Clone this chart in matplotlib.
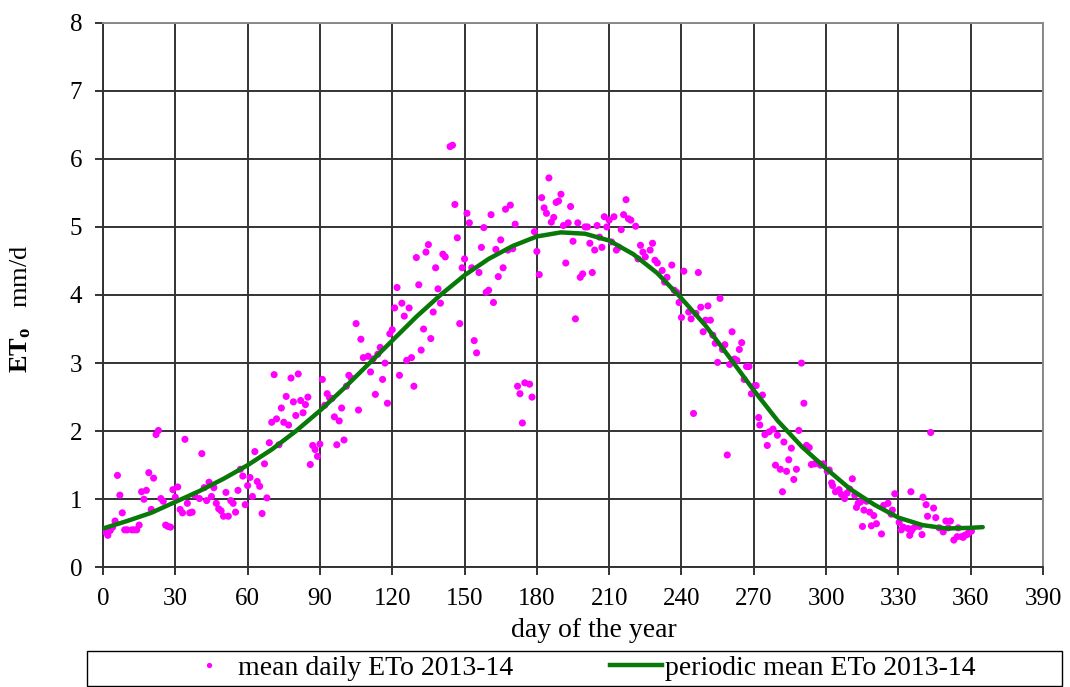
import matplotlib
matplotlib.use("Agg")
import matplotlib.pyplot as plt
from matplotlib.lines import Line2D
from matplotlib.patches import Rectangle

plt.rcParams['font.family'] = ['Liberation Serif', 'DejaVu Serif']
plt.rcParams['mathtext.fontset'] = 'custom'
plt.rcParams['mathtext.rm'] = 'Liberation Serif'
plt.rcParams['mathtext.bf'] = 'Liberation Serif:bold'
plt.rcParams['mathtext.it'] = 'Liberation Serif:italic'

# mean daily ETo 2013-14 (day of year, mm/d)
daily_day = [1, 2, 3, 4, 5, 6, 7, 8, 9, 10, 12, 13, 14, 15, 16, 17, 18, 19, 20, 21, 22, 23, 24, 25, 26, 27, 28, 29,
             30, 31, 32, 33, 34, 35, 36, 37, 38, 40, 41, 42, 43, 44, 45, 46, 47, 48, 49, 50, 51, 52, 53, 54, 55, 56,
             57, 58, 59, 60, 61, 62, 63, 64, 65, 66, 67, 68, 69, 70, 71, 72, 73, 74, 75, 76, 77, 78, 79, 80,
             81, 82, 83, 84, 85, 86, 87, 88, 89, 90, 91, 92, 93, 94, 95, 96, 97, 98, 99, 100, 101, 102, 103, 105,
             106, 107, 108, 110, 111, 112, 113, 114, 115, 116, 117, 118, 119, 120, 121, 122, 123, 124, 125, 126,
             127, 128, 129, 130, 131, 132, 133, 134, 136, 137, 138, 139, 140, 141, 142, 148,
             135, 144, 145, 146, 147, 149, 150, 151, 152, 153, 154, 155, 156, 157, 158, 159, 160, 161, 162, 163,
             164, 165, 166, 167, 168, 169, 170, 171, 172, 173, 174, 175, 177, 178, 179, 180, 181, 182, 183, 184,
             185, 186, 187, 188, 189, 190, 191, 192, 193, 194, 195, 196, 197, 198, 199, 200, 201, 202, 203, 204, 205,
             206, 207, 208, 209, 210, 211, 212, 213, 214, 215, 216, 217, 218, 219, 221, 222, 223, 224, 225, 227,
             228, 229, 230, 232, 233, 234, 236, 237, 238, 239, 240, 241, 243, 244, 245, 246, 247, 248, 249, 250,
             251, 252, 253, 254, 255, 256, 257, 258, 259, 260, 261, 262, 263, 264, 265, 266, 267, 268, 269, 270,
             271, 272, 272.5,
             273.6, 274.6, 276.4, 278, 275.6, 279.8, 282.5, 279, 281, 283.6, 281.9, 284.5, 285.6, 287.7, 286.6,
             288.7, 289.8, 290.8, 291.9, 293, 293.9, 295.3, 296.7, 297.7, 298.8, 300.5, 301.3, 302.3, 302.7, 303.9,
             305.4, 306.4, 307.7, 308.7, 309.8, 310.9, 311.9, 313.3, 312.6, 314.3, 316.8, 315.7, 318.1, 319.8,
             315.1, 318.8, 320.9, 323.9, 325.7, 327.5, 327, 328.5, 330.3, 332, 335.2,
             323, 331.2, 334, 335.3, 336, 337.1, 338.7, 334.7, 339.8, 340.2, 341.5, 344.6, 342.1, 345.5, 346.9,
             348.6, 349.7, 351.6, 350.7, 353, 354.4, 356.2, 357.5, 358.9, 360.3, 354.8, 356.9, 358.5, 343.4]
daily_eto = [0.52, 0.47, 0.54, 0.59, 0.68, 1.35, 1.06, 0.80, 0.55, 0.55, 0.55, 0.55, 0.55, 0.62, 1.11, 1.00, 1.13,
             1.39, 0.85, 1.31, 1.95, 2.01, 1.01, 0.97, 0.62, 0.60, 0.59, 1.14,
             1.03, 1.18, 0.85, 0.80, 1.88, 0.94, 0.80, 0.81, 1.06, 1.01, 1.67, 1.17, 0.98, 1.25, 1.04, 1.17, 0.94,
             0.86, 0.83, 0.75, 1.10, 0.75, 0.98, 0.94, 0.81, 1.13,
             1.44, 1.34, 0.92, 1.20, 1.32, 1.04, 1.70, 1.26, 1.19, 0.79, 1.52, 1.02, 1.83, 2.13, 2.83, 2.18, 1.80,
             2.34, 2.13, 2.51, 2.09, 2.78, 2.43, 2.23,
             2.84, 2.45, 2.27, 2.39, 2.50, 1.51, 1.79, 1.73, 1.63, 1.81, 2.76, 2.38, 2.55, 2.49, 2.48, 2.21, 1.80,
             2.15, 2.34, 1.87, 2.66, 2.82, 2.78, 3.58,
             2.31, 3.35, 3.08, 3.10, 2.87, 3.06, 2.54, 3.13, 3.23, 2.76, 3.00, 2.41, 3.43, 3.49, 3.81, 4.11, 2.82,
             3.88, 3.69, 3.04,
             3.81, 3.08, 2.66, 4.55, 4.15, 3.19, 3.50, 4.63, 3.36, 3.75, 4.40, 4.09, 3.88, 4.60, 4.56, 3.58,
             4.74, 6.18, 6.20, 5.33, 4.84, 4.40, 4.53, 5.20, 5.06, 4.40, 3.33, 3.15, 4.33, 4.70, 4.99, 4.04, 4.07,
             5.18, 3.89, 4.67,
             4.27, 4.81, 4.40, 5.26, 4.66, 5.32, 4.68, 5.04, 2.66, 2.55, 2.12, 2.71, 2.69, 2.50, 4.93, 4.64, 4.30,
             5.43, 5.28, 5.20,
             5.72, 5.07, 5.14, 5.36, 5.38, 5.48, 5.02, 4.47, 5.06, 5.30, 4.79, 3.65, 5.06, 4.26, 4.31, 5.00, 5.00,
             4.76, 4.33, 4.66, 5.02,
             4.85, 4.70, 5.15, 5.00, 5.10, 4.78, 5.15, 4.66, 4.70, 4.96, 5.18, 5.40, 5.12, 5.10, 5.01, 4.53, 4.73,
             4.63, 4.56, 4.66,
             4.76, 4.51, 4.47, 4.36, 4.19, 4.26, 4.44, 4.07, 4.04, 3.89, 3.67, 4.35, 3.75, 3.65, 2.26, 3.73, 4.33,
             3.82, 3.46, 3.63,
             3.84, 3.63, 3.41, 3.29, 3.01, 3.95, 3.20, 3.27, 1.65, 2.98, 3.46, 3.06, 3.04, 3.20, 3.30, 2.76, 2.95,
             2.95, 2.55, 2.66,
             2.67, 2.20, 2.09,
             2.53, 1.95, 1.99, 2.03, 1.79, 1.94, 1.84, 1.50, 1.44, 1.41, 1.11, 1.58, 1.75, 1.44, 1.29,
             2.01, 3.00, 2.41, 1.79, 1.76, 1.51, 1.52, 1.53, 1.50, 1.52, 1.41, 1.43, 1.24, 1.20, 1.11,
             1.14, 1.07, 1.01, 1.09, 1.15, 1.30, 1.06, 0.94, 0.88, 0.96, 0.97, 0.84, 0.81, 0.76,
             0.60, 0.61, 0.64, 0.91, 0.94, 0.84, 0.78, 1.08, 0.66, 0.59, 1.11,
             0.49, 0.55, 0.57, 0.53, 0.57, 0.60, 0.60, 0.47, 0.48, 1.03, 0.92, 0.87, 0.75, 0.73, 0.58,
             0.52, 0.68, 0.68, 0.58, 0.40, 0.45, 0.45, 0.47, 0.50, 0.53, 0.58, 0.44, 0.48, 1.98]

# periodic mean ETo 2013-14
periodic_day = [0, 10, 20, 30, 40, 50, 60, 70, 80, 90, 100, 110, 120, 130, 140, 150, 160, 170, 180, 190,
                200, 210, 220, 230, 240, 250, 260, 270, 280, 290, 300, 310, 320, 330, 340, 350, 360, 365]
periodic_eto = [0.57, 0.68, 0.80, 0.96, 1.12, 1.30, 1.50, 1.73, 2.00, 2.30, 2.63, 2.98, 3.33, 3.68, 4.00, 4.29,
                4.53, 4.72, 4.86, 4.92, 4.90, 4.80, 4.60, 4.32, 3.95, 3.55, 3.08, 2.60, 2.15, 1.77, 1.45, 1.15,
                0.92, 0.73, 0.62, 0.57, 0.58, 0.59]

x_ticks = list(range(0, 391, 30))
y_ticks = list(range(0, 9))

fig = plt.figure(figsize=(10.70, 6.87), dpi=100)
ax = fig.add_axes([103 / 1070, 1 - 567.3 / 687, 940 / 1070, 544.6 / 687])

grid_c = '#333333'
ax.set_axisbelow(True)
ax.grid(True, color=grid_c, linewidth=1.4)
ax.scatter(daily_day, daily_eto, s=26, color='#FF00FF', edgecolors='none', zorder=3)
ax.plot(periodic_day, periodic_eto, color='#087808', linewidth=3.2, zorder=4,
        solid_capstyle='round', solid_joinstyle='round')

ax.set_xlim(0, 390)
ax.set_ylim(0, 8)
ax.set_xticks(x_ticks)
ax.set_yticks(y_ticks)
ax.tick_params(axis='both', direction='out', length=6, width=1.4, color=grid_c,
               labelsize=18, pad=9)
for s in ['left', 'bottom']:
    ax.spines[s].set_color(grid_c)
    ax.spines[s].set_linewidth(1.4)
for s in ['top', 'right']:
    ax.spines[s].set_color('#8a8a8a')
    ax.spines[s].set_linewidth(1.4)

ax.set_xlabel('day of the year', fontsize=20)
ax.xaxis.set_label_coords(0.522, -0.094)
ax.xaxis.label.set_va('top')
ax.set_ylabel(r'$\mathbf{ET_o}$   mm/d', fontsize=19)
ax.yaxis.set_label_coords(-0.074, 0.474)

# legend box
fig.patches.append(Rectangle((87 / 1070, 1 / 687), 975 / 1070, 35 / 687, transform=fig.transFigure,
                             facecolor='white', edgecolor='black', linewidth=1.0))
handles = [Line2D([], [], linestyle='none', marker='o', markersize=3.8, color='#FF00FF',
                  markeredgecolor='none', label='mean daily ETo 2013-14'),
           Line2D([], [], color='#087808', linewidth=3.2, label='periodic mean ETo 2013-14')]
fig.legend(handles=handles, loc='center', bbox_to_anchor=(0.5416, 0.027), ncol=2, frameon=False,
           fontsize=20, handlelength=1.87, handletextpad=0.1, columnspacing=3.5, borderpad=0.1)

fig.savefig('out.png', dpi=100)
